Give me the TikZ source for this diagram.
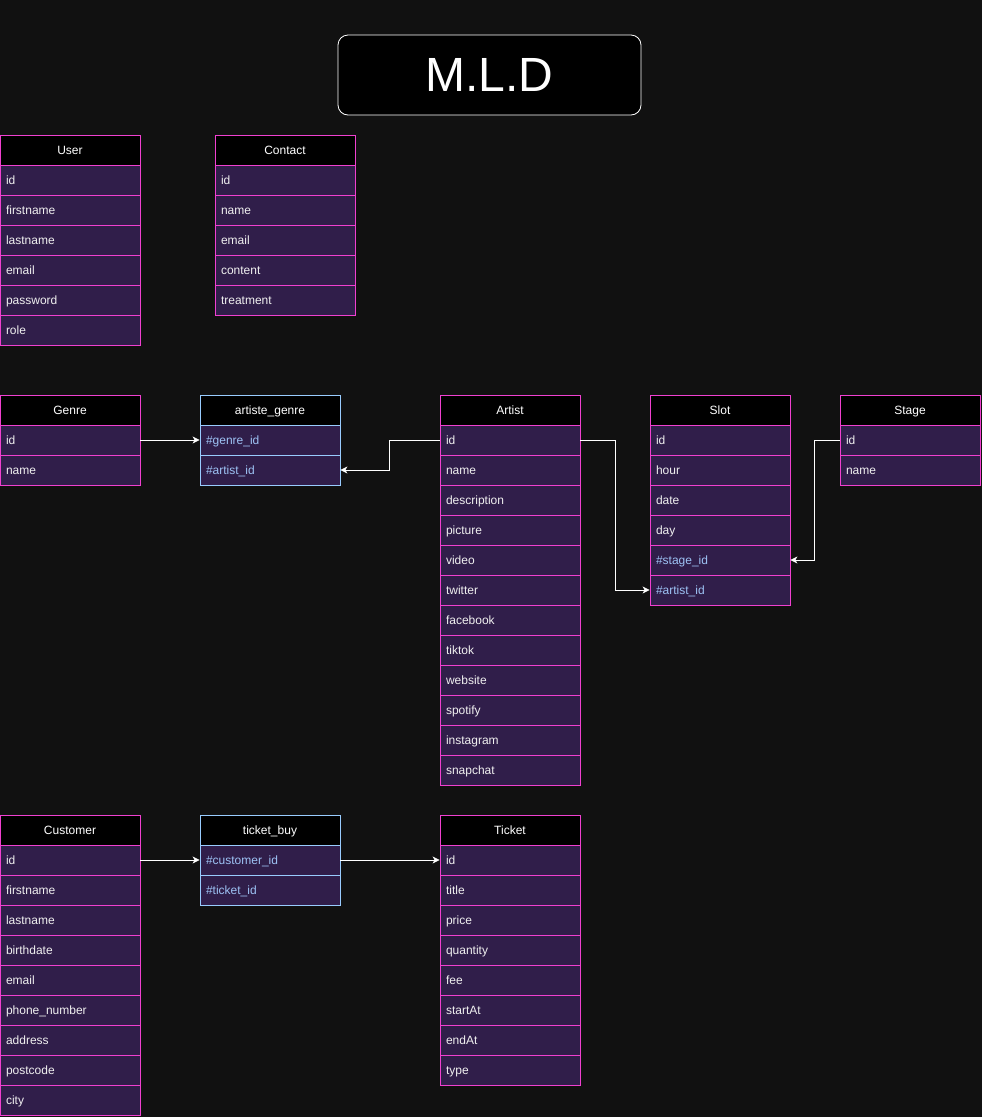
\documentclass[tikz,border=0pt]{standalone}
\usepackage{fontspec}
\setmainfont{Liberation Sans}
\usetikzlibrary{arrows.meta}
\definecolor{bgc}{HTML}{111111}
\definecolor{rowfill}{HTML}{301E4A}
\definecolor{pinkb}{HTML}{F040D0}
\definecolor{blueb}{HTML}{99CCFF}
\definecolor{fkblue}{HTML}{9EC3F5}
\definecolor{rowtxt}{HTML}{F0F0F0}
\newcommand\fkey{\color{fkblue}\#}
\newcommand\ertable[6]{%
  \node[hdr, draw=#5] (#1) at (#2+70,#3+15) {#4};
  \foreach \r [count=\i] in {#6} {
    \node[rowbox, draw=#5] (#1-\i) at (#2+70,#3+15+30*\i) {\r};
  }%
}
\begin{document}
\begin{tikzpicture}[x=1pt,y=-1pt,
  hdr/.style={rectangle, fill=black, text=white, minimum width=140pt, minimum height=30pt, inner sep=0pt, text height=10pt, text depth=2pt, line width=0.8pt, font=\fontsize{12}{14}\selectfont},
  rowbox/.style={rectangle, fill=rowfill, text=rowtxt, text width=128pt, inner xsep=6pt, inner ysep=0pt, text height=10pt, text depth=2pt, minimum height=30pt, align=left, line width=0.8pt, font=\fontsize{12}{14}\selectfont},
  conn/.style={draw=white, line width=0.8pt, -{Stealth[length=7pt,width=7pt,inset=2pt]}},
  titlebox/.style={rectangle, rounded corners=10pt, fill=black, draw=white, line width=0.8pt, text=white, minimum width=303pt, minimum height=80pt, font=\fontsize{48}{56}\selectfont}
]
\fill[bgc] (0,0) rectangle (982,1117);
\useasboundingbox (0,0) rectangle (982,1117);

\node[titlebox] (title) at (489.5,75) {M.L.D};

\ertable{user}{0}{135}{User}{pinkb}{id,firstname,lastname,email,password,role}
\ertable{contact}{215}{135}{Contact}{pinkb}{id,name,email,content,treatment}
\ertable{genre}{0}{395}{Genre}{pinkb}{id,name}
\ertable{ag}{200}{395}{artiste\_genre}{blueb}{\fkey genre\_id,\fkey artist\_id}
\ertable{artist}{440}{395}{Artist}{pinkb}{id,name,description,picture,video,twitter,facebook,tiktok,website,spotify,instagram,snapchat}
\ertable{slot}{650}{395}{Slot}{pinkb}{id,hour,date,day,\fkey stage\_id,\fkey artist\_id}
\ertable{stage}{840}{395}{Stage}{pinkb}{id,name}
\ertable{customer}{0}{815}{Customer}{pinkb}{id,firstname,lastname,birthdate,email,phone\_number,address,postcode,city}
\ertable{tb}{200}{815}{ticket\_buy}{blueb}{\fkey customer\_id,\fkey ticket\_id}
\ertable{ticket}{440}{815}{Ticket}{pinkb}{id,title,price,quantity,fee,startAt,endAt,type}

\draw[conn] (genre-1.east) -- (ag-1.west);
\draw[conn] (artist-1.west) -- ++(-50,0) |- (ag-2.east);
\draw[conn] (artist-1.east) -- ++(35,0) |- (slot-6.west);
\draw[conn] (stage-1.west) -- ++(-25,0) |- (slot-5.east);
\draw[conn] (customer-1.east) -- (tb-1.west);
\draw[conn] (tb-1.east) -- (ticket-1.west);
\end{tikzpicture}
\end{document}
